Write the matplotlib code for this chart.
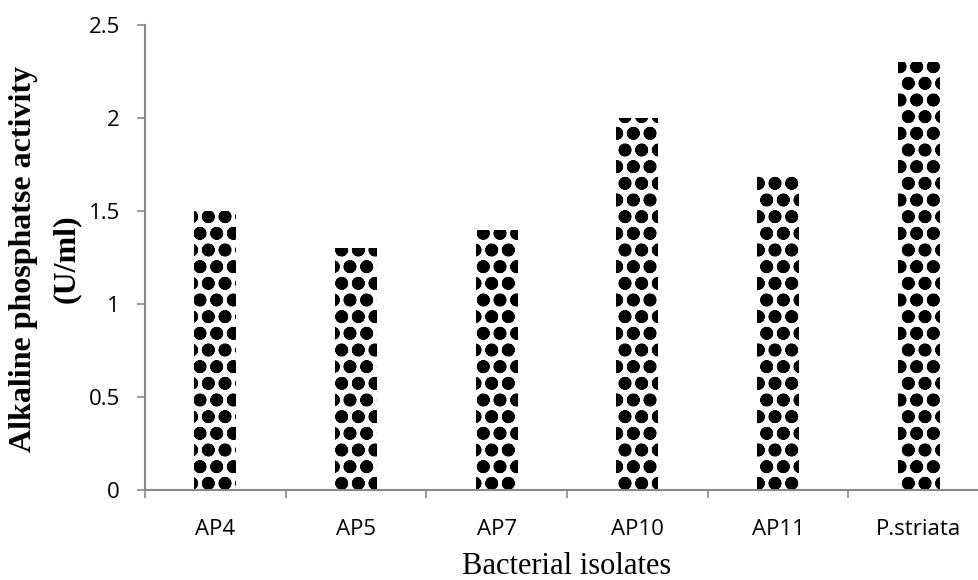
import numpy as np
import matplotlib
import matplotlib.pyplot as plt

# Bacterial isolates and their alkaline phosphatase activity (U/ml)
isolates = ['AP4', 'AP5', 'AP7', 'AP10', 'AP11', 'P.striata']
activity = [1.5, 1.3, 1.4, 2.0, 1.7, 2.3]
y_ticks = [0, 0.5, 1, 1.5, 2, 2.5]
y_ticklabels = ['0', '0.5', '1', '1.5', '2', '2.5']

# thick hatch lines turn the small circles into black balls
plt.rcParams['hatch.linewidth'] = 4.5

fw, fh = 9.79, 5.80
fig = plt.figure(figsize=(fw, fh), dpi=100)
ax = fig.add_axes([145/979, 90/580, 844/979, 465/580])

axis_grey = '#898989'
tick_font = 'Open Sans'

x = np.arange(len(isolates))
ax.bar(x, activity, width=0.3, color='white', edgecolor='black',
       linewidth=0, hatch='o')

ax.set_xlim(-0.5, len(isolates) - 0.5)
ax.set_ylim(0, 2.5)

# major ticks sit between categories (Excel style), labels on minor ticks
ax.set_xticks(np.arange(-0.5, len(isolates), 1.0))
ax.set_xticklabels([])
ax.set_xticks(x, minor=True)
ax.set_xticklabels(isolates, minor=True, fontsize=16, family=tick_font)
ax.tick_params(axis='x', which='major', direction='out', length=6,
               width=1.2, color=axis_grey)
ax.tick_params(axis='x', which='minor', length=0, pad=21)

ax.set_yticks(y_ticks)
ax.set_yticklabels(y_ticklabels, fontsize=16, family=tick_font)
ax.tick_params(axis='y', direction='out', length=6, width=1.2,
               color=axis_grey, pad=12)

for s in ['top', 'right']:
    ax.spines[s].set_visible(False)
for s in ['left', 'bottom']:
    ax.spines[s].set_color(axis_grey)
    ax.spines[s].set_linewidth(1.5)

fig.text(567/979, 1 - 566/580, 'Bacterial isolates', ha='center', va='center',
         fontsize=22, family='Liberation Serif')
fig.text(24/979, 1 - 259/580, 'Alkaline phosphatse activity', rotation=90,
         ha='center', va='center', fontsize=23, fontweight='bold',
         family='Liberation Serif')
fig.text(66/979, 1 - 259/580, '(U/ml)', rotation=90,
         ha='center', va='center', fontsize=23, fontweight='bold',
         family='Liberation Serif')

plt.savefig('out.png', dpi=100)
